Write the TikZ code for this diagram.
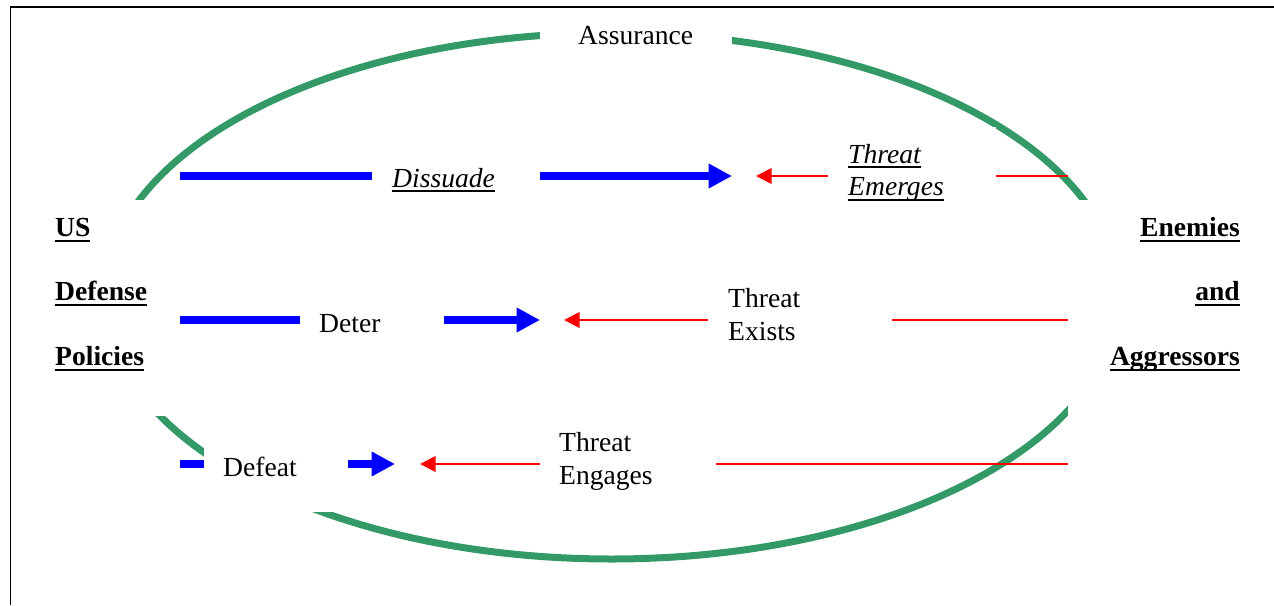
\documentclass[tikz,border=0pt]{standalone}
\usepackage{fontspec}
\setmainfont{Liberation Serif}
\usetikzlibrary{arrows.meta}
\definecolor{ringgreen}{RGB}{51,153,102}
\newsavebox{\ulbox}
% underline drawn as a fixed rule under the word
\newcommand{\ulword}[1]{\sbox{\ulbox}{#1}\rlap{\rule[-5pt]{\wd\ulbox}{2pt}}\usebox{\ulbox}}
\begin{document}
\begin{tikzpicture}[x=1pt, y=-1pt,
  every node/.style={inner sep=0pt, font=\fontsize{27.6}{33}\selectfont},
  ring/.style={draw=ringgreen, line width=7pt},
  usarrow/.style={draw=blue, line width=7.6pt, -{Triangle[length=23.5pt,width=23.5pt]}},
  threatarrow/.style={draw=red, line width=2pt, -{Triangle[length=15.5pt,width=15.5pt]}},
  mask/.style={fill=white, draw=none},
  txt/.style={anchor=base west},
  side/.style={font=\fontsize{27.6}{33}\selectfont\bfseries},
  frameline/.style={draw=black, line width=1.6pt}]
\useasboundingbox (0,0) rectangle (1274,605);

% assurance ring
\draw[ring] (611.5,296) ellipse [x radius=507pt, y radius=263pt];

% end points of the policy and threat arrows
\coordinate (dis-s) at (180,176);  \coordinate (dis-t) at (732,176);
\coordinate (det-s) at (180,320);  \coordinate (det-t) at (540,320);
\coordinate (def-s) at (180,464);  \coordinate (def-t) at (395,464);
\coordinate (emg-s) at (1068,176); \coordinate (emg-t) at (756,176);
\coordinate (exs-s) at (1068,320); \coordinate (exs-t) at (564,320);
\coordinate (eng-s) at (1068,464); \coordinate (eng-t) at (420,464);

\draw[usarrow] (dis-s) -- (dis-t);
\draw[usarrow] (det-s) -- (det-t);
\draw[usarrow] (def-s) -- (def-t);
\draw[threatarrow] (emg-s) -- (emg-t);
\draw[threatarrow] (exs-s) -- (exs-t);
\draw[threatarrow] (eng-s) -- (eng-t);

% white text boxes
\path[mask] (540,12) rectangle (732,56);
\path[mask] (30,200) rectangle (176,416);
\path[mask] (1068,200) rectangle (1262,422);
\path[mask] (372,150) rectangle (540,205);
\path[mask] (828,127) rectangle (996,210);
\path[mask] (300,295) rectangle (444,345);
\path[mask] (708,280) rectangle (892,352);
\path[mask] (204,430) rectangle (348,512);
\path[mask] (540,425) rectangle (716,502);

% labels
\node[txt] (assurance) at (578,44) {Assurance};
\node[txt] (dissuade) at (392,187) {\ulword{\itshape Dissuade}};
\node[txt] (deter) at (319,332) {Deter};
\node[txt] (defeat) at (223,476.7) {Defeat};
\node[txt] (emerges1) at (848,163.3) {\ulword{\itshape Threat}};
\node[txt] (emerges2) at (848,195.5) {\ulword{\itshape Emerges}};
\node[txt] (exists1) at (728,307.3) {Threat};
\node[txt] (exists2) at (728,340) {Exists};
\node[txt] (engages1) at (559,451.5) {Threat};
\node[txt] (engages2) at (559,484.2) {Engages};

\node[txt, side] (us) at (55,236.7) {\ulword{US}};
\node[txt, side] (defense) at (55,300.5) {\ulword{Defense}};
\node[txt, side] (policies) at (55,365.5) {\ulword{Policies}};
\node[anchor=base east, side] (enemies) at (1240,236.5) {\ulword{Enemies}};
\node[anchor=base east, side] (and) at (1240,300.5) {\ulword{and}};
\node[anchor=base east, side] (aggressors) at (1240,365.5) {\ulword{Aggressors}};

% page frame
\draw[frameline] (10.4,605) -- (10.4,6.8) -- (1274,6.8);
\end{tikzpicture}
\end{document}
